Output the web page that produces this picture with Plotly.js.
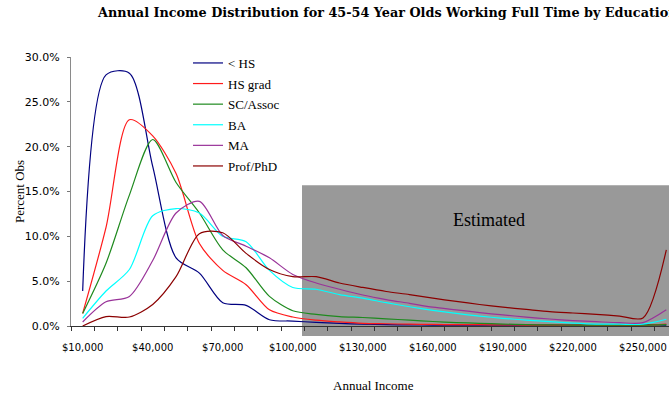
<!DOCTYPE html>
<html>
<head>
<meta charset="utf-8">
<script src="https://cdn.plot.ly/plotly-3.0.1.min.js"></script>
<style>
  html, body { margin: 0; padding: 0; overflow: hidden; background: #fff; }
  #chart { width: 700px; height: 398px; }
</style>
</head>
<body>
<div id="chart"></div>
<script>
// Income brackets (lower bound of each $10,000 bracket)
const incomes = [10000, 20000, 30000, 40000, 50000, 60000, 70000, 80000, 90000, 100000,
                 110000, 120000, 130000, 140000, 150000, 160000, 170000, 180000, 190000, 200000,
                 210000, 220000, 230000, 240000, 250000, 260000];

// Share of observations in each bracket, percent
const lessHS  = [3.9, 28.0, 28.2, 17.8, 7.6, 5.9, 2.6, 2.3, 0.7, 0.55, 0.4, 0.3, 0.2, 0.15, 0.12,
                 0.1, 0.1, 0.1, 0.1, 0.1, 0.1, 0.1, 0.1, 0.1, 0.15, 0.1];
const hsGrad  = [1.4, 11.0, 23.0, 21.2, 17.0, 9.2, 6.2, 4.6, 1.8, 1.0, 0.65, 0.45, 0.3, 0.25, 0.2,
                 0.18, 0.15, 0.15, 0.12, 0.1, 0.1, 0.1, 0.08, 0.08, 0.08, 0.2];
const scAssoc = [1.4, 7.0, 14.6, 20.8, 16.0, 12.6, 8.5, 6.5, 3.3, 1.7, 1.3, 1.05, 0.95, 0.8, 0.65,
                 0.5, 0.38, 0.3, 0.22, 0.15, 0.12, 0.1, 0.1, 0.1, 0.1, 0.15];
const ba      = [0.86, 3.9, 6.3, 12.3, 13.1, 12.6, 10.0, 9.4, 6.2, 4.3, 4.1, 3.5, 3.1, 2.6, 2.15,
                 1.75, 1.4, 1.1, 0.86, 0.65, 0.48, 0.33, 0.22, 0.2, 0.2, 0.75];
const ma      = [0.45, 2.7, 3.3, 7.3, 12.6, 13.9, 10.1, 8.9, 7.6, 5.75, 4.8, 4.1, 3.46, 2.95, 2.53,
                 2.1, 1.8, 1.5, 1.23, 1.0, 0.78, 0.6, 0.48, 0.37, 0.37, 1.8];
const profPhD = [0.0, 1.05, 1.0, 2.4, 5.5, 10.3, 10.4, 8.1, 6.3, 5.5, 5.5, 4.8, 4.3, 3.85, 3.5,
                 3.1, 2.75, 2.4, 2.1, 1.85, 1.6, 1.45, 1.3, 1.1, 0.9, 8.5];

const seriesNames  = ['< HS', 'HS grad', 'SC/Assoc', 'BA', 'MA', 'Prof/PhD'];
const seriesValues = [lessHS, hsGrad, scAssoc, ba, ma, profPhD];
const seriesColors = ['#000080', '#ff1a1a', '#1e8a1e', '#00ffff', '#993399', '#8b0000'];

const serif = 'Liberation Serif, Times New Roman, serif';
const sans = 'DejaVu Sans, Verdana, sans-serif';

const traces = seriesNames.map((name, i) => ({
  type: 'scatter',
  mode: 'lines',
  name: name,
  legendgroup: 'g' + i,
  x: incomes,
  y: seriesValues[i],
  line: { color: seriesColors[i], width: 1.2, shape: 'spline', smoothing: 0.8 },
  hoverinfo: 'skip'
}));

const W = 700, H = 398;
const L = 71, R = 22, T = 57, B = 72;
const PW = W - L - R, PH = H - T - B;

const layout = {
  width: W,
  height: H,
  margin: { l: L, r: R, t: T, b: B, pad: 0, autoexpand: false },
  paper_bgcolor: '#ffffff',
  plot_bgcolor: 'rgba(0,0,0,0)',
  showlegend: true,
  title: {
    text: 'Annual Income Distribution for 45-54 Year Olds Working Full Time by Education',
    xref: 'container', x: 98 / W, xanchor: 'left',
    yref: 'container', y: 1 - 12.5 / H, yanchor: 'middle',
    font: { family: 'DejaVu Serif, serif', size: 12.8, weight: 'bold', color: '#000' }
  },
  xaxis: {
    range: [5000, 265000],
    tickmode: 'linear', tick0: 10000, dtick: 30000,
    tickprefix: '$', tickformat: ',d', tickangle: 0,
    ticks: '', ticklabelstandoff: 12,
    tickfont: { family: sans, size: 10, color: '#000' },
    minor: { tick0: 5000, dtick: 10000, ticks: 'outside', ticklen: 4, tickcolor: '#333', tickwidth: 1 },
    showline: true, linecolor: '#333', linewidth: 1,
    showgrid: false, zeroline: false, fixedrange: true, automargin: false
  },
  yaxis: {
    range: [0, 30],
    tickmode: 'linear', tick0: 0, dtick: 5,
    tickformat: '.1f', ticksuffix: '%',
    ticks: 'outside', ticklen: 3, tickcolor: '#777', ticklabelstandoff: 5,
    tickfont: { family: sans, size: 11, color: '#000' },
    showline: true, linecolor: '#8a8a8a', linewidth: 1,
    showgrid: false, zeroline: false, fixedrange: true, automargin: false
  },
  legend: {
    xref: 'container', x: 188 / W, xanchor: 'left',
    yref: 'container', y: 1 - 48 / H, yanchor: 'top',
    bgcolor: 'rgba(0,0,0,0)', borderwidth: 0,
    tracegroupgap: 0.7,
    font: { family: serif, size: 13, color: '#000' }
  },
  shapes: [{
    type: 'rect', layer: 'below',
    xref: 'paper', yref: 'paper',
    x0: (302 - L) / PW, x1: 1.1,
    y0: -10 / PH, y1: 15.7 / 30,
    fillcolor: '#999999', line: { width: 0 }
  }],
  annotations: [
    {
      text: 'Estimated', showarrow: false,
      xref: 'paper', yref: 'paper',
      x: (489 - L) / PW, y: (326 - 220) / PH,
      xanchor: 'center', yanchor: 'middle',
      font: { family: serif, size: 18, color: '#000' }
    },
    {
      text: 'Percent Obs', showarrow: false, textangle: -90,
      xref: 'paper', yref: 'paper',
      x: (19 - L) / PW, y: (326 - 191) / PH,
      xanchor: 'center', yanchor: 'middle',
      font: { family: serif, size: 13, color: '#000' }
    },
    {
      text: 'Annual Income', showarrow: false,
      xref: 'paper', yref: 'paper',
      x: (373 - L) / PW, y: (326 - 385) / PH,
      xanchor: 'center', yanchor: 'middle',
      font: { family: serif, size: 13, color: '#000' }
    }
  ]
};

Plotly.newPlot('chart', traces, layout, { displayModeBar: false, staticPlot: true });
</script>
</body>
</html>
